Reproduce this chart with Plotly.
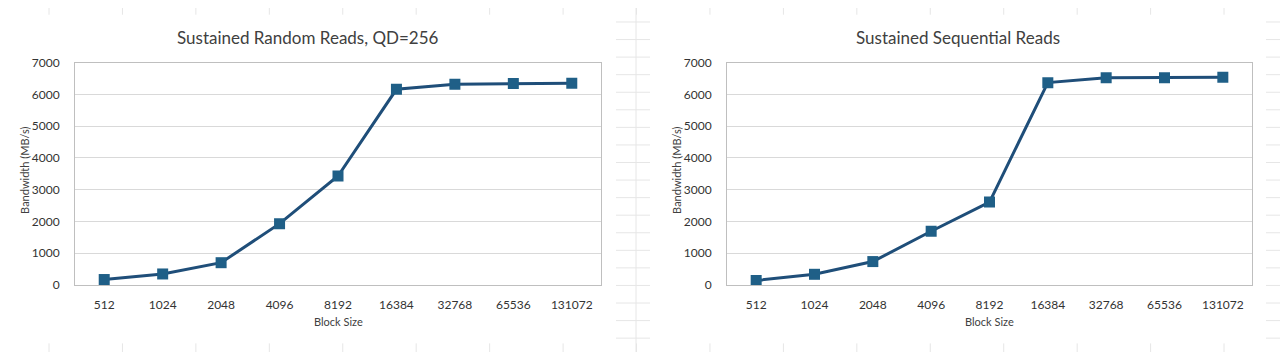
import plotly.graph_objects as go

block_sizes = ["512", "1024", "2048", "4096", "8192", "16384", "32768", "65536", "131072"]
random_reads = [170, 345, 700, 1930, 3430, 6160, 6320, 6340, 6350]
sequential_reads = [140, 335, 735, 1690, 2610, 6370, 6525, 6525, 6540]
titles = ["Sustained Random Reads, QD=256", "Sustained Sequential Reads"]
y_ticks = [0, 1000, 2000, 3000, 4000, 5000, 6000, 7000]

W, H = 1280, 359
LINE = "#1f4e79"
MARK = "#1f5f87"
FONT = "Lato, 'Open Sans', sans-serif"

fig = go.Figure()

# plot area pixel geometry
plots = [(75, 601), (727, 1252)]
top, bottom = 57, 289
chart_areas = [(0, 616), (650, 1266)]

def px(x):
    return x / W

def py(y):
    return 1 - y / H

series = [random_reads, sequential_reads]
for i, (vals, (x0, x1)) in enumerate(zip(series, plots)):
    xa = "x" if i == 0 else "x2"
    ya = "y" if i == 0 else "y2"
    fig.add_trace(go.Scatter(
        x=block_sizes, y=vals, mode="lines+markers",
        line=dict(color=LINE, width=3),
        marker=dict(symbol="square", size=11, color=MARK),
        xaxis=xa, yaxis=ya, showlegend=False, hoverinfo="x+y",
    ))
    axis_common = dict(
        showline=True, mirror=True, linecolor="#bfbfbf", linewidth=1,
        tickfont=dict(family=FONT, size=12, color="#333333"),
        zeroline=False,
    )
    xkey = "xaxis" if i == 0 else "xaxis2"
    ykey = "yaxis" if i == 0 else "yaxis2"
    fig.update_layout(**{
        xkey: dict(domain=[px(x0), px(x1)], type="category",
                   range=[-0.5, len(block_sizes) - 0.5], showgrid=False,
                   anchor=ya, ticks="", ticklabelstandoff=9, **axis_common),
        ykey: dict(domain=[py(bottom), py(top)], range=[0, 7000],
                   tickvals=y_ticks, showgrid=True, gridcolor="#d9d9d9",
                   gridwidth=1, anchor=xa, ticks="", ticklabelstandoff=12,
                   **axis_common),
    })
    ca0, ca1 = chart_areas[i]
    # chart title
    fig.add_annotation(text=titles[i], x=px((ca0 + ca1) / 2), y=py(31),
                       xref="paper", yref="paper", showarrow=False,
                       font=dict(family=FONT, size=17, color="#404040"),
                       xanchor="center", yanchor="middle")
    # x-axis title
    fig.add_annotation(text="Block Size", x=px((x0 + x1) / 2), y=py(327),
                       xref="paper", yref="paper", showarrow=False,
                       font=dict(family=FONT, size=11, color="#404040"),
                       xanchor="center", yanchor="middle")
    # y-axis title
    fig.add_annotation(text="Bandwidth (MB/s)", x=px(x0 - 50), y=py(170),
                       xref="paper", yref="paper", showarrow=False,
                       textangle=-90,
                       font=dict(family=FONT, size=11, color="#404040"),
                       xanchor="center", yanchor="middle")

# faint spreadsheet cell grid visible around the charts
shapes = []
grid_col = "#e6e6e6"
k = 0
while True:
    gx = 49 + 73.44 * k
    if gx > W:
        break
    shapes.append(dict(type="line", xref="paper", yref="paper",
                       x0=px(gx), x1=px(gx), y0=py(0), y1=py(7),
                       line=dict(color=grid_col, width=1), layer="below"))
    shapes.append(dict(type="line", xref="paper", yref="paper",
                       x0=px(gx), x1=px(gx), y0=py(350), y1=py(H),
                       line=dict(color=grid_col, width=1), layer="below"))
    k += 1
shapes.append(dict(type="line", xref="paper", yref="paper",
                   x0=px(636), x1=px(636), y0=0, y1=1,
                   line=dict(color=grid_col, width=1), layer="below"))
r = 0
while True:
    gy = 14.6 + 18.33 * r
    if gy > 350:
        break
    for a, b in [(616, 650), (1266, 1280)]:
        shapes.append(dict(type="line", xref="paper", yref="paper",
                           x0=px(a), x1=px(b), y0=py(gy), y1=py(gy),
                           line=dict(color=grid_col, width=1), layer="below"))
    r += 1

fig.update_layout(
    width=W, height=H, margin=dict(l=0, r=0, t=0, b=0),
    paper_bgcolor="white", plot_bgcolor="white",
    font=dict(family=FONT), shapes=shapes,
)

fig.write_html(
    "out.html",
    config={"displayModeBar": False},
    post_script="document.body.style.margin='0';document.body.style.overflow='hidden';",
)
